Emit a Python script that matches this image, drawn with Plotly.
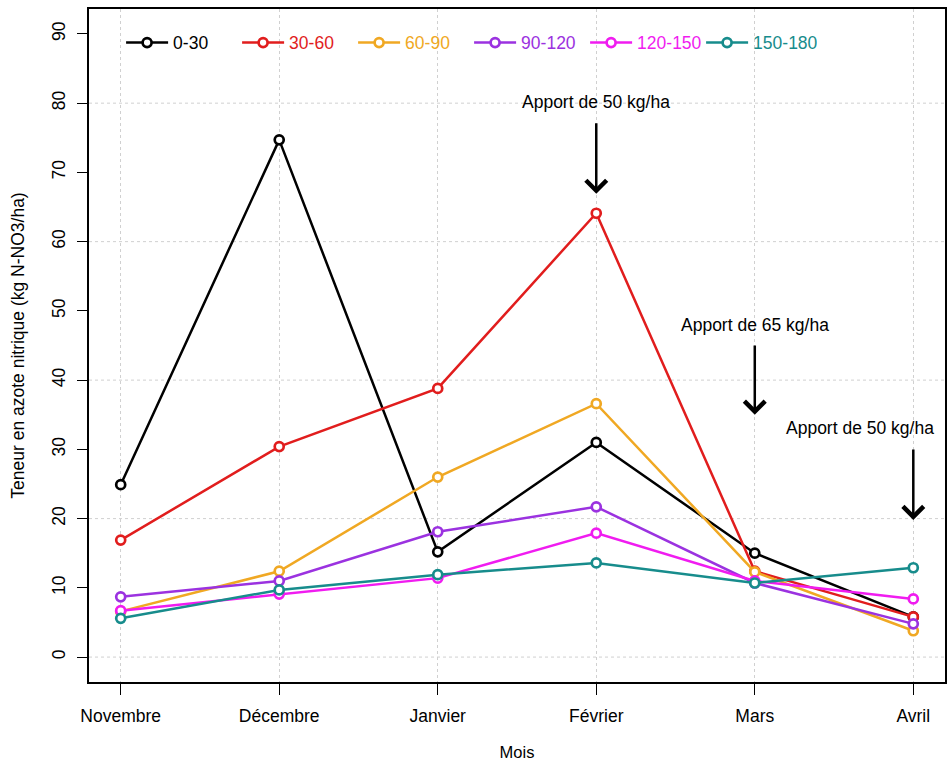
import plotly.graph_objects as go

# Months of sampling
mois = ["Novembre", "Décembre", "Janvier", "Février", "Mars", "Avril"]

# Nitrate-N content per soil depth layer (kg N-NO3/ha)
couche_0_30 = [24.9, 74.7, 15.2, 31.0, 15.0, 5.8]
couche_30_60 = [16.9, 30.4, 38.8, 64.1, 12.4, 5.8]
couche_60_90 = [6.6, 12.4, 26.0, 36.6, 12.3, 3.8]
couche_90_120 = [8.7, 11.0, 18.1, 21.7, 10.7, 4.8]
couche_120_150 = [6.7, 9.1, 11.4, 17.9, 11.0, 8.4]
couche_150_180 = [5.6, 9.7, 11.9, 13.6, 10.7, 12.9]

noms = ["0-30", "30-60", "60-90", "90-120", "120-150", "150-180"]
series = [couche_0_30, couche_30_60, couche_60_90, couche_90_120,
          couche_120_150, couche_150_180]
couleurs = ["#000000", "#E11D1D", "#F0A823", "#9B32E0", "#F01CF0", "#178C8C"]

# Fertiliser applications: month index, label, arrow top / bottom, label position
apports_mois = [3, 4, 5]
apports_texte = ["Apport de 50 kg/ha", "Apport de 65 kg/ha", "Apport de 50 kg/ha"]
fleche_haut = [77.3, 45.2, 30.2]
fleche_bas = [66.9, 35.0, 19.8]
texte_x = [3.0, 4.0, 4.666]
texte_y = [80.2, 48.0, 33.1]

x_idx = list(range(len(mois)))
fig = go.Figure()

for nom, vals, col in zip(noms, series, couleurs):
    fig.add_trace(go.Scatter(
        x=x_idx, y=vals, mode="lines+markers",
        name=f"<span style='color:{col}'>{nom}</span>",
        line=dict(color=col, width=2.5),
        marker=dict(symbol="circle", size=9, color="white",
                    line=dict(color=col, width=2.7)),
    ))

# Dotted horizontal grid every 20 units
for g in [0, 20, 40, 60, 80]:
    fig.add_hline(y=g, line=dict(color="#D0D0D0", width=1, dash="dot"),
                  layer="below")

for m, txt, yh, yb, tx, ty in zip(apports_mois, apports_texte, fleche_haut,
                                  fleche_bas, texte_x, texte_y):
    fig.add_annotation(x=m, y=yb, ax=m, ay=yh, xref="x", yref="y",
                       axref="x", ayref="y", text="", showarrow=True,
                       arrowhead=4, arrowsize=1.6, arrowwidth=2.5,
                       arrowcolor="black")
    fig.add_annotation(x=tx, y=ty, xref="x", yref="y", text=txt,
                       showarrow=False, font=dict(size=17.5, color="black"))

fig.update_layout(
    width=952, height=764,
    margin=dict(l=89, r=7, t=9, b=82),
    plot_bgcolor="white", paper_bgcolor="white",
    font=dict(family="Liberation Sans, Arial, sans-serif", size=17.5,
              color="black"),
    showlegend=True,
    legend=dict(orientation="h", x=0.0375, y=0.95, xanchor="left",
                yanchor="middle", bgcolor="rgba(0,0,0,0)",
                font=dict(size=17.5), entrywidth=59, itemwidth=42,
                tracegroupgap=0),
)

fig.update_xaxes(
    range=[-0.2, 5.2], tickmode="array", tickvals=x_idx, ticktext=mois,
    showgrid=True, gridcolor="#D0D0D0", griddash="dot", gridwidth=1,
    zeroline=False, showline=True, linecolor="black", linewidth=1.5,
    mirror=True, ticks="outside", ticklen=11, tickwidth=1.2,
    tickcolor="black", ticklabelstandoff=6, automargin=False,
    title=dict(text="Mois", standoff=22, font=dict(size=16.5)),
    tickfont=dict(size=17.5),
)
fig.update_yaxes(
    range=[-3.6, 93.6], dtick=10, tick0=0, showgrid=False, zeroline=False,
    showline=True, linecolor="black", linewidth=1.5, mirror=True,
    ticks="outside", ticklen=10, tickwidth=1.2, tickcolor="black",
    tickangle=-90, tickfont=dict(size=17.5), ticklabelstandoff=5,
    automargin=False,
    title=dict(text="Teneur en azote nitrique (kg N-NO3/ha)", standoff=20,
               font=dict(size=17.5)),
)

fig.write_html("out.html")
